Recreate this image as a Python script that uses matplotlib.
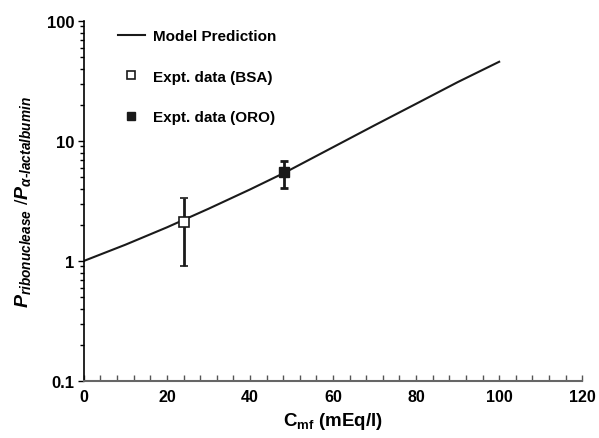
import numpy as np
import matplotlib
matplotlib.use('Agg')
import matplotlib.pyplot as plt
from matplotlib.lines import Line2D
from matplotlib.ticker import MultipleLocator, LogLocator, NullFormatter, FixedLocator

plt.rcParams['font.family'] = ['Liberation Sans', 'DejaVu Sans']
plt.rcParams['font.weight'] = 'bold'
plt.rcParams['mathtext.fontset'] = 'custom'
plt.rcParams['mathtext.rm'] = 'Liberation Sans:bold'
plt.rcParams['mathtext.bf'] = 'Liberation Sans:bold'
plt.rcParams['mathtext.it'] = 'Liberation Sans:bold:italic'

# model curve
model_x = [0, 10, 20, 30, 40, 48, 50, 60, 70, 80, 90, 100]
model_y = [1.0, 1.365, 1.905, 2.72, 3.94, 5.37, 5.83, 8.87, 13.5, 20.4, 30.9, 45.7]

# experimental points
bsa_x = [24]
bsa_y = [2.12]
bsa_lo = [0.90]
bsa_hi = [3.33]

oro_x = [48.3]
oro_y = [5.48]
oro_lo = [4.06]
oro_hi = [6.85]

x_ticks = [0, 20, 40, 60, 80, 100, 120]
y_ticks = [0.1, 1, 10, 100]
y_labels = ['0.1', '1', '10', '100']

fig = plt.figure(figsize=(5.99, 4.39), dpi=100)
ax = fig.add_axes([0.140, 0.130, 0.832, 0.820])

ax.plot(model_x, model_y, color='#1a1a1a', lw=1.5)

ax.errorbar(bsa_x, bsa_y,
            yerr=[np.array(bsa_y) - np.array(bsa_lo), np.array(bsa_hi) - np.array(bsa_y)],
            fmt='s', mfc='white', mec='#1a1a1a', mew=1.2, ms=7, ecolor='#1a1a1a',
            elinewidth=2, capsize=3, capthick=2, zorder=3)
ax.errorbar(oro_x, oro_y,
            yerr=[np.array(oro_y) - np.array(oro_lo), np.array(oro_hi) - np.array(oro_y)],
            fmt='s', mfc='#1a1a1a', mec='#1a1a1a', ms=7, ecolor='#1a1a1a',
            elinewidth=2, capsize=3, capthick=2, zorder=3)

ax.set_yscale('log')
ax.set_xlim(0, 120)
ax.set_ylim(0.1, 100)

ax.xaxis.set_major_locator(FixedLocator(x_ticks))
ax.xaxis.set_minor_locator(MultipleLocator(4))
ax.yaxis.set_major_locator(FixedLocator(y_ticks))
ax.set_yticklabels(y_labels)
ax.yaxis.set_minor_locator(LogLocator(base=10, subs=np.arange(2, 10)))
ax.yaxis.set_minor_formatter(NullFormatter())

ax.tick_params(axis='x', which='both', direction='in', length=4, width=1, color='#555555',
               labelsize=11.5, pad=6)
ax.tick_params(axis='y', which='major', direction='out', length=4, width=1, labelsize=12, pad=3)
ax.tick_params(axis='y', which='minor', direction='out', length=3, width=1)

for s in ['top', 'right']:
    ax.spines[s].set_visible(False)
ax.spines['bottom'].set_color('#666666')
ax.spines['bottom'].set_linewidth(1.5)
ax.spines['left'].set_linewidth(1.2)

ax.set_xlabel(r'$\mathrm{C_{mf}}$ (mEq/l)', fontsize=13.5, fontweight='bold', labelpad=4)
ax.set_ylabel(r'$P_{ribonuclease}$ /$P_{\alpha\text{-}lactalbumin}$', fontsize=14, labelpad=10)

handles = [
    Line2D([], [], color='#1a1a1a', lw=1.5),
    Line2D([], [], ls='none', marker='s', mfc='white', mec='#1a1a1a', mew=1.2, ms=6),
    Line2D([], [], ls='none', marker='s', mfc='#1a1a1a', mec='#1a1a1a', ms=6),
]
labels = ['Model Prediction', 'Expt. data (BSA)', 'Expt. data (ORO)']
ax.legend(handles, labels, loc='upper left', bbox_to_anchor=(0.04, 1.015), frameon=False,
          fontsize=11, labelspacing=1.72, handlelength=1.8, handletextpad=0.55)

fig.savefig('out.png', dpi=100)
